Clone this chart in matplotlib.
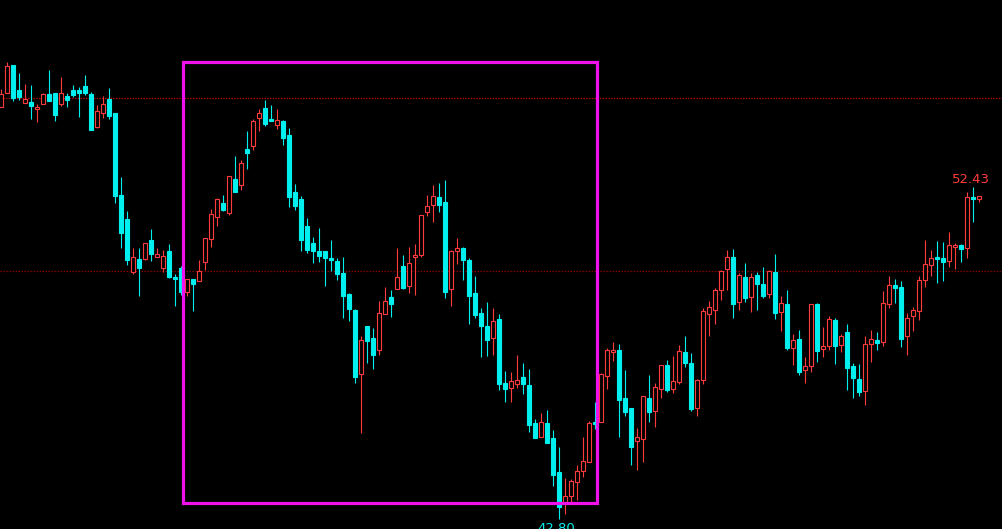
import numpy as np
import matplotlib
matplotlib.use("Agg")
import matplotlib.pyplot as plt
from matplotlib.patches import Rectangle

# ------ daily candles -------------------------------------------------------------
opens = [54.75, 55.15, 55.97, 55.24, 54.86, 54.89, 54.69, 54.83, 55.12, 55.15,
         54.83, 55.07, 55.24, 55.24, 55.36, 55.12, 54.17, 54.57, 54.98, 54.57,
         52.19, 51.50, 49.96, 50.34, 50.34, 50.89, 50.40, 50.08, 50.57, 49.82,
         50.08, 49.38, 49.76, 49.70, 50.25, 50.92, 51.56, 51.96, 51.67, 52.66,
         52.49, 53.53, 53.62, 54.43, 54.72, 54.40, 54.23, 54.34, 53.94, 52.28,
         52.08, 51.30, 50.80, 50.57, 50.57, 50.37, 50.28, 49.93, 49.32, 48.86,
         47.00, 48.40, 48.05, 47.70, 48.74, 49.24, 49.47, 50.14, 49.56, 50.40,
         50.46, 51.70, 51.91, 52.14, 51.99, 49.47, 50.57, 50.66, 50.31, 49.35,
         48.77, 48.40, 48.05, 48.60, 46.74, 46.60, 46.71, 46.92, 46.69, 45.58,
         45.18, 45.58, 45.15, 44.16, 43.26, 43.47, 43.87, 44.19, 44.45, 45.61,
         45.61, 46.95, 47.64, 47.70, 46.31, 46.02, 45.06, 45.12, 46.31, 45.93,
         46.57, 47.27, 46.57, 46.77, 47.64, 47.32, 46.02, 46.83, 48.74, 48.86,
         49.44, 50.05, 50.40, 49.09, 49.82, 49.24, 49.87, 49.61, 49.32, 49.96,
         48.80, 49.03, 47.76, 48.02, 47.12, 47.24, 49.03, 47.73, 47.82, 48.57,
         47.85, 48.22, 47.24, 46.86, 46.51, 47.87, 47.99, 47.93, 49.03, 49.59,
         49.53, 48.11, 48.69, 48.83, 49.73, 50.17, 50.40, 50.37, 50.28, 50.69,
         50.74, 50.66, 52.14, 52.08]

highs = [55.27, 56.05, 55.97, 55.73, 55.41, 55.39, 54.83, 55.15, 55.82, 55.15,
         55.62, 55.15, 55.39, 55.33, 55.68, 55.18, 54.80, 55.07, 55.30, 54.57,
         52.72, 51.73, 50.66, 50.66, 50.80, 51.21, 50.66, 50.60, 50.77, 49.90,
         50.14, 49.76, 49.76, 50.31, 50.95, 51.79, 52.11, 52.19, 52.75, 53.33,
         53.21, 54.05, 54.40, 54.69, 54.95, 54.80, 54.69, 54.37, 54.14, 52.51,
         52.17, 51.53, 50.98, 51.24, 50.57, 50.89, 50.37, 50.40, 49.35, 48.89,
         48.11, 48.40, 48.34, 49.12, 49.53, 49.44, 50.66, 50.46, 50.69, 50.77,
         51.62, 52.19, 52.49, 52.54, 52.63, 50.60, 50.95, 50.69, 50.37, 49.85,
         48.92, 49.09, 48.92, 48.74, 47.09, 47.06, 47.55, 47.32, 47.15, 45.70,
         45.87, 45.96, 45.38, 44.89, 43.99, 43.96, 44.37, 45.18, 45.64, 46.19,
         47.03, 47.76, 47.93, 47.87, 47.12, 46.02, 45.44, 46.37, 46.97, 46.74,
         47.27, 47.41, 47.53, 47.85, 48.11, 47.61, 46.86, 48.92, 49.12, 49.50,
         50.02, 50.60, 50.63, 49.93, 50.22, 49.93, 49.96, 50.11, 50.02, 50.48,
         49.27, 49.44, 48.16, 48.28, 47.50, 49.03, 49.06, 48.37, 48.69, 48.63,
         48.16, 48.45, 47.32, 47.29, 48.11, 48.28, 48.22, 49.41, 49.85, 49.76,
         49.70, 48.77, 48.95, 49.85, 50.89, 50.60, 50.86, 50.83, 51.12, 50.80,
         50.77, 52.28, 52.43, 52.17]

lows = [54.75, 55.15, 54.92, 54.95, 54.86, 54.40, 54.31, 54.83, 54.92, 54.34,
        54.78, 54.75, 55.04, 54.46, 55.10, 54.08, 54.14, 54.43, 54.40, 51.96,
        50.66, 50.17, 49.90, 49.27, 50.31, 50.28, 50.40, 49.96, 49.79, 48.98,
        49.30, 49.27, 48.83, 49.70, 50.02, 50.69, 51.30, 51.73, 51.62, 52.28,
        52.34, 52.95, 53.50, 54.05, 54.20, 54.34, 54.11, 53.65, 51.85, 51.76,
        50.57, 50.51, 50.22, 50.25, 49.56, 49.99, 49.73, 48.63, 48.54, 46.74,
        45.29, 47.32, 47.15, 47.55, 48.74, 48.66, 49.47, 49.47, 49.35, 49.30,
        50.40, 51.59, 51.41, 51.70, 49.21, 48.98, 50.19, 49.73, 48.45, 48.63,
        47.50, 47.53, 47.55, 46.54, 46.19, 46.19, 46.60, 46.42, 45.32, 45.15,
        45.18, 45.00, 43.76, 42.80, 42.94, 43.26, 43.35, 44.02, 44.45, 45.41,
        45.61, 46.57, 47.38, 45.18, 45.79, 44.37, 44.22, 44.45, 45.61, 45.47,
        46.31, 46.48, 46.45, 46.71, 47.21, 45.93, 45.79, 46.71, 48.11, 48.45,
        49.15, 49.44, 48.63, 48.86, 49.09, 48.80, 48.86, 49.21, 49.21, 48.60,
        48.25, 47.70, 47.27, 46.98, 46.74, 47.06, 47.35, 47.50, 47.70, 47.29,
        47.64, 46.54, 46.31, 46.37, 46.10, 47.35, 47.70, 47.82, 48.92, 49.06,
        47.79, 47.55, 48.25, 48.57, 49.53, 49.85, 49.64, 49.70, 50.11, 50.05,
        50.25, 50.37, 51.41, 51.99]

closes = [55.12, 55.94, 55.01, 55.04, 54.98, 54.78, 54.75, 55.12, 54.92, 54.52,
          55.15, 54.95, 55.10, 55.15, 55.15, 54.08, 54.63, 54.83, 54.49, 52.17,
          51.09, 50.31, 50.40, 50.08, 50.80, 50.48, 50.48, 50.43, 49.82, 49.76,
          49.38, 49.76, 49.61, 49.99, 50.95, 51.64, 52.08, 51.76, 52.75, 52.28,
          53.12, 53.41, 54.34, 54.57, 54.25, 54.34, 54.37, 53.85, 52.14, 51.88,
          50.89, 50.60, 50.57, 50.43, 50.37, 50.31, 49.90, 49.27, 48.89, 46.92,
          47.99, 47.96, 47.55, 48.77, 49.12, 49.03, 49.82, 49.50, 50.22, 50.46,
          51.62, 51.88, 52.17, 51.91, 49.38, 50.57, 50.66, 50.31, 49.27, 48.72,
          48.40, 47.99, 48.54, 46.71, 46.57, 46.80, 46.83, 46.71, 45.53, 45.15,
          45.61, 45.00, 44.08, 43.15, 43.47, 43.90, 44.19, 44.48, 45.58, 45.55,
          47.00, 47.70, 47.70, 46.25, 45.90, 44.89, 45.18, 46.37, 45.90, 46.63,
          47.27, 46.54, 46.80, 47.67, 47.32, 45.99, 46.83, 48.83, 48.95, 49.44,
          49.99, 50.40, 49.03, 49.87, 49.21, 49.82, 49.61, 49.27, 49.99, 48.77,
          49.06, 47.76, 47.99, 47.06, 47.24, 49.03, 47.67, 47.82, 48.60, 47.82,
          48.11, 47.18, 46.89, 46.48, 47.87, 48.02, 47.90, 49.06, 49.59, 49.50,
          48.02, 48.63, 48.86, 49.73, 50.19, 50.37, 50.34, 50.25, 50.74, 50.74,
          50.63, 52.14, 52.08, 52.17]

# reference lines, marked box and price labels
ref_levels = [55.01, 49.99]
box_start, box_end = 30.2, 99.2
box_low, box_high = 43.25, 56.04
max_label = "52.43"
min_label = "42.80"

# ------ figure ---------------------------------------------------------------------
UP = "#ff3b3b"
DOWN = "#00f0f0"
BOX = "#ee11ee"

fig = plt.figure(figsize=(10.02, 5.29), dpi=100, facecolor="black")
ax = fig.add_axes([0, 0, 1, 1])
ax.set_facecolor("black")
ax.axis("off")

o = np.array(opens)
h = np.array(highs)
l = np.array(lows)
c = np.array(closes)
x = np.arange(len(o))
up = c >= o

ax.axhline(ref_levels[0], color="#b00000", lw=0.9, ls=(0, (1.2, 1.0)), zorder=1)
ax.axhline(ref_levels[1], color="#880000", lw=0.9, ls=(0, (1.2, 1.2)), zorder=1)

# wicks
ax.vlines(x[up], l[up], h[up], color=UP, lw=0.8, zorder=2)
ax.vlines(x[~up], l[~up], h[~up], color=DOWN, lw=0.8, zorder=2)

# bodies
body_lo = np.minimum(o, c)
body_h = np.maximum(np.abs(c - o), 0.03)
w = 0.72
ax.bar(x[up], body_h[up], bottom=body_lo[up], width=w, facecolor="black",
       edgecolor=UP, linewidth=0.8, zorder=3)
ax.bar(x[~up], body_h[~up], bottom=body_lo[~up], width=w, facecolor=DOWN,
       edgecolor=DOWN, linewidth=0.8, zorder=3)

ax.add_patch(Rectangle((box_start, box_low), box_end - box_start, box_high - box_low,
                       fill=False, edgecolor=BOX, linewidth=2.3, zorder=4))

imax = int(np.argmax(h[120:])) + 120
imin = int(np.argmin(l))
ax.text(imax - 0.4, h[imax] + 0.22, max_label, color=UP, fontsize=9.5,
        ha="center", va="center")
ax.text(imin - 0.45, l[imin] - 0.08, min_label, color=DOWN, fontsize=9.5,
        ha="center", va="top")

ax.set_xlim(-0.22, 166.78)
ax.set_ylim(42.51, 57.85)

plt.savefig("out.png", dpi=100, facecolor="black")
plt.close()
